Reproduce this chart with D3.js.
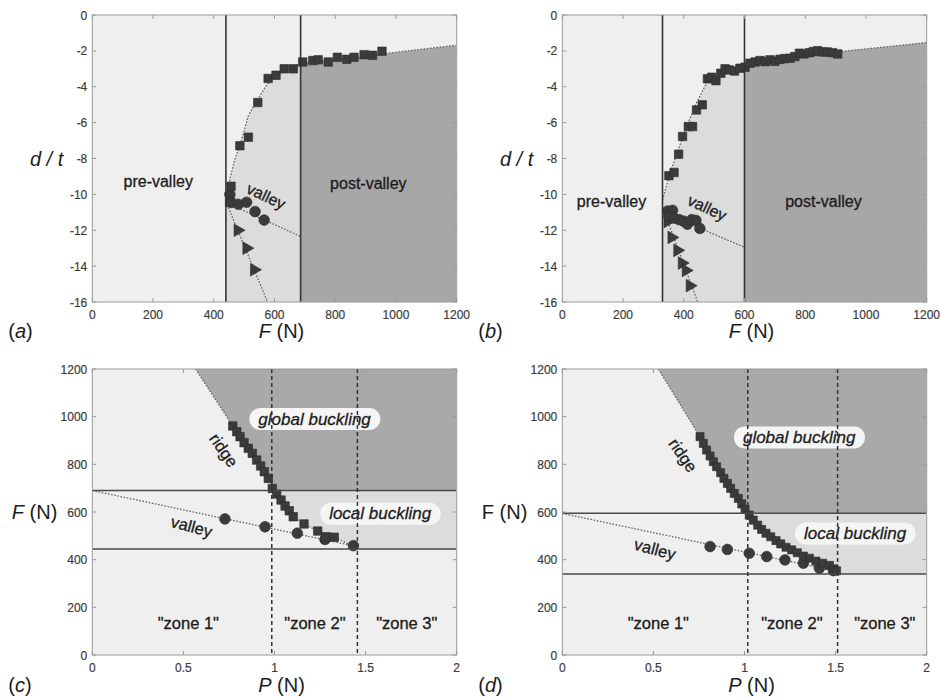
<!DOCTYPE html>
<html>
<head>
<meta charset="utf-8">
<script src="https://cdn.jsdelivr.net/npm/d3@7"></script>
<style>
  body { margin: 0; background: #fff; }
  text { font-family: "Liberation Sans", Arial, sans-serif; }
</style>
</head>
<body>
<svg id="fig" width="941" height="699"></svg>
<script>
// ---- data ----
// (a) d/t vs F
const squaresA = [[457,-9.55],[452,-10.45],[486,-7.29],[514,-6.81],[545,-4.88],[579,-3.54],[605,-3.36],[632,-3.0],[662,-3.0],
  [693,-2.62],[726,-2.54],[744,-2.5],[777,-2.62],[807,-2.36],[838,-2.47],[862,-2.36],[895,-2.21],[923,-2.25],[954,-2.02]];
const circlesA = [[453,-10.0],[458,-10.45],[481,-10.55],[508,-10.44],[536,-10.96],[566,-11.43]];
const trianglesA = [[479,-12.0],[508,-13.0],[533,-14.2]];
const fitSquaresA = [[440,-10.5],[455,-9.0],[470,-8.0],[486,-7.3],[514,-5.6],[541,-4.8],[574,-3.9],[610,-3.3],[686,-2.7],[1200,-1.68]];
const fitCirclesA = [[440,-10.45],[686,-12.35]];
const fitTrianglesA = [[440,-10.4],[577,-16]];
const boundsA = [440, 686];

// (b) d/t vs F
const squaresB = [[351,-8.96],[368,-8.78],[383,-7.76],[396,-6.77],[415,-6.22],[429,-6.22],[442,-5.29],[461,-5.01],[478,-3.56],
  [492,-3.47],[506,-3.66],[522,-3.25],[536,-3.0],[550,-3.06],[567,-3.12],[585,-2.97],[602,-2.91],[618,-2.69],[635,-2.62],
  [651,-2.54],[668,-2.6],[684,-2.5],[700,-2.58],[717,-2.47],[733,-2.43],[750,-2.41],[766,-2.32],[781,-2.13],[796,-2.17],
  [814,-2.1],[827,-2.04],[841,-1.99],[858,-2.06],[873,-2.06],[890,-2.1],[907,-2.17]];
const circlesB = [[347,-10.93],[363,-10.89],[351,-11.23],[368,-11.32],[385,-11.41],[399,-11.49],[412,-11.66],[426,-11.41],[440,-11.45],[453,-11.9]];
const trianglesB = [[347,-11.51],[360,-12.4],[379,-13.12],[394,-13.83],[407,-14.24],[420,-15.09]];
const fitSquaresB = [[330,-10.3],[355,-8.8],[382,-7.5],[410,-6.2],[442,-4.9],[478,-3.7],[520,-3.3],[600,-2.92],[700,-2.55],[800,-2.2],[915,-2.04],[1200,-1.54]];
const fitCirclesB = [[330,-11.0],[600,-12.95]];
const fitTrianglesB = [[330,-10.7],[446,-16]];
const boundsB = [330, 600];

// (c) F vs P
const ridgeC = [[0.771,961],[0.793,937],[0.811,916],[0.833,891],[0.856,867],[0.878,846],[0.902,818],[0.924,793],[0.944,769],
  [0.966,741],[0.988,699],[1.012,675],[1.036,650],[1.058,625],[1.081,605],[1.103,580],[1.162,550],[1.237,520],[1.283,496],[1.328,494]];
const valleyC = [[0.728,571],[0.948,538],[1.125,511],[1.277,485],[1.433,459]];
const fitRidgeC = [[0.567,1200],[0.771,961],[0.878,846],[0.966,741],[1.036,650],[1.103,580],[1.162,550],[1.237,520],[1.33,494],[1.46,445]];
const fitValleyC = [[0,690],[1.45,455]];
const levelsC = [445, 690];
const zonesC = [0.985, 1.455];

// (d) F vs P
const ridgeD = [[0.756,916],[0.774,888],[0.792,860],[0.811,835],[0.829,811],[0.847,790],[0.869,765],[0.887,741],[0.906,720],
  [0.924,699],[0.944,678],[0.966,657],[0.985,634],[1.003,611],[1.026,587],[1.048,566],[1.072,545],[1.094,527],[1.118,511],
  [1.144,496],[1.173,480],[1.199,466],[1.228,452],[1.259,441],[1.29,429],[1.323,415],[1.356,406],[1.392,394],[1.429,385],
  [1.466,376],[1.49,362],[1.505,353]];
const valleyD = [[0.811,455],[0.906,443],[1.026,427],[1.122,413],[1.222,399],[1.323,385],[1.411,364],[1.488,354]];
const fitRidgeD = [[0.527,1200],[0.756,916],[0.847,790],[0.944,678],[1.026,587],[1.118,511],[1.199,466],[1.29,429],[1.392,394],[1.466,376],[1.505,340]];
const fitValleyD = [[0,594],[1.5,352]];
const levelsD = [340, 595];
const zonesD = [1.018, 1.511];

const ticksF = [0, 200, 400, 600, 800, 1000, 1200];
const ticksDT = [0, -2, -4, -6, -8, -10, -12, -14, -16];
const ticksP = [0, 0.5, 1, 1.5, 2];

// ---- drawing ----
const svg = d3.select('#fig');
const defs = svg.append('defs');
const markColor = '#3b3b3b';
const ink = '#1c1c1c';
let clipId = 0;

function clipRect(x0, y0, x1, y1) {
  const id = 'clip' + (clipId++);
  defs.append('clipPath').attr('id', id).append('rect')
    .attr('x', Math.min(x0, x1)).attr('y', Math.min(y0, y1))
    .attr('width', Math.abs(x1 - x0)).attr('height', Math.abs(y1 - y0));
  return 'url(#' + id + ')';
}

function frame(g, box, x, y, xt, yt, fmtX) {
  const tl = 4;
  g.append('rect').attr('x', box.x0).attr('y', box.y0)
    .attr('width', box.x1 - box.x0).attr('height', box.y1 - box.y0)
    .attr('fill', 'none').attr('stroke', '#9a9a9a').attr('stroke-width', 1);
  xt.forEach(function (t) {
    const px = x(t);
    g.append('line').attr('x1', px).attr('x2', px).attr('y1', box.y1).attr('y2', box.y1 - tl).attr('stroke', '#9a9a9a');
    g.append('line').attr('x1', px).attr('x2', px).attr('y1', box.y0).attr('y2', box.y0 + tl).attr('stroke', '#9a9a9a');
    g.append('text').attr('x', px).attr('y', box.y1 + 17).attr('text-anchor', 'middle')
      .attr('font-size', 12).attr('fill', '#3c3c3c').attr('stroke', '#3c3c3c').attr('stroke-width', 0.2)
      .text(fmtX ? fmtX(t) : t);
  });
  yt.forEach(function (t) {
    const py = y(t);
    g.append('line').attr('x1', box.x0).attr('x2', box.x0 + tl).attr('y1', py).attr('y2', py).attr('stroke', '#9a9a9a');
    g.append('line').attr('x1', box.x1).attr('x2', box.x1 - tl).attr('y1', py).attr('y2', py).attr('stroke', '#9a9a9a');
    g.append('text').attr('x', box.x0 - 5).attr('y', py + 4.5).attr('text-anchor', 'end')
      .attr('font-size', 12).attr('fill', '#3c3c3c').attr('stroke', '#3c3c3c').attr('stroke-width', 0.2).text(t);
  });
}

function dotted(g, pts, x, y) {
  const line = d3.line().x(d => x(d[0])).y(d => y(d[1]));
  g.append('path').attr('d', line(pts)).attr('fill', 'none')
    .attr('stroke', '#666').attr('stroke-width', 1.3).attr('stroke-dasharray', '1.6,1.6');
}

function markers(g, pts, type, size, rot, x, y) {
  const sym = d3.symbol().type(type).size(size);
  g.selectAll(null).data(pts).enter().append('path')
    .attr('d', sym)
    .attr('transform', d => 'translate(' + x(d[0]) + ',' + y(d[1]) + ') rotate(' + rot + ')')
    .attr('fill', markColor).attr('stroke', '#2e2e2e').attr('stroke-width', 0.6);
}

function label(g, txt, px, py, size, rot, italic) {
  g.append('text').attr('x', px).attr('y', py).attr('text-anchor', 'middle')
    .attr('dominant-baseline', 'central')
    .attr('transform', rot ? 'rotate(' + rot + ',' + px + ',' + py + ')' : null)
    .attr('font-size', size).attr('font-style', italic ? 'italic' : null)
    .attr('fill', ink).attr('stroke', ink).attr('stroke-width', 0.3).text(txt);
}

function boxLabel(g, txt, px, py) {
  const gg = g.append('g');
  const r = gg.append('rect');
  const t = gg.append('text').attr('x', px).attr('y', py).attr('text-anchor', 'middle')
    .attr('dominant-baseline', 'central').attr('font-size', 17).attr('font-style', 'italic')
    .attr('fill', ink).attr('stroke', ink).attr('stroke-width', 0.3).text(txt);
  const b = t.node().getBBox();
  r.attr('x', b.x - 9).attr('y', py - 11).attr('width', b.width + 18).attr('height', 22)
    .attr('rx', 11).attr('fill', '#f5f5f5');
}

function drawDT(cfg) {
  const box = cfg.box;
  const g = svg.append('g');
  const x = d3.scaleLinear().domain([0, 1200]).range([box.x0, box.x1]);
  const y = d3.scaleLinear().domain([-16, 0]).range([box.y1, box.y0]);

  g.append('rect').attr('x', box.x0).attr('y', box.y0).attr('width', box.x1 - box.x0)
    .attr('height', box.y1 - box.y0).attr('fill', '#efefef');

  const poly = cfg.fitSq.concat([[1200, -16], [cfg.bounds[0], -16]]);
  const area = d3.line().x(d => x(d[0])).y(d => y(d[1]));
  g.append('path').attr('d', area(poly) + 'Z').attr('fill', '#dcdcdc')
    .attr('clip-path', clipRect(x(cfg.bounds[0]), box.y0, x(cfg.bounds[1]), box.y1));
  g.append('path').attr('d', area(poly) + 'Z').attr('fill', '#a7a7a7')
    .attr('clip-path', clipRect(x(cfg.bounds[1]), box.y0, box.x1, box.y1));

  const inner = g.append('g').attr('clip-path', clipRect(box.x0, box.y0, box.x1, box.y1));
  dotted(inner, cfg.fitSq, x, y);
  dotted(inner, cfg.fitCirc, x, y);
  dotted(inner, cfg.fitTri, x, y);

  cfg.bounds.forEach(function (b) {
    g.append('line').attr('x1', x(b)).attr('x2', x(b)).attr('y1', box.y0).attr('y2', box.y1)
      .attr('stroke', '#333').attr('stroke-width', 1.6);
  });

  markers(inner, cfg.tri, d3.symbolTriangle, 70, 90, x, y);
  markers(inner, cfg.circ, d3.symbolCircle, 90, 0, x, y);
  markers(inner, cfg.sq, d3.symbolSquare, 72, 0, x, y);

  cfg.labels.forEach(l => label(g, l[0], x(l[1]), y(l[2]), 16, l[3], false));

  frame(g, box, x, y, ticksF, ticksDT);

  g.append('text').attr('x', box.x0 - 29).attr('y', y(-8) + 7).attr('text-anchor', 'end')
    .attr('font-size', 20).attr('font-style', 'italic').attr('fill', ink).text('d / t');
  const xl = g.append('text').attr('x', (box.x0 + box.x1) / 2 + 7).attr('y', box.y1 + 36)
    .attr('text-anchor', 'middle').attr('font-size', 20).attr('fill', ink);
  xl.append('tspan').attr('font-style', 'italic').text('F');
  xl.append('tspan').text(' (N)');
  const pl = g.append('text').attr('x', box.x0 - 84).attr('y', box.y1 + 36)
    .attr('font-size', 20).attr('fill', ink);
  pl.append('tspan').text('(');
  pl.append('tspan').attr('font-style', 'italic').text(cfg.tag);
  pl.append('tspan').text(')');
}

function drawFP(cfg) {
  const box = cfg.box;
  const g = svg.append('g');
  const x = d3.scaleLinear().domain([0, 2]).range([box.x0, box.x1]);
  const y = d3.scaleLinear().domain([0, 1200]).range([box.y1, box.y0]);

  g.append('rect').attr('x', box.x0).attr('y', box.y0).attr('width', box.x1 - box.x0)
    .attr('height', box.y1 - box.y0).attr('fill', '#efefef');

  const last = cfg.fitRidge[cfg.fitRidge.length - 1];
  const poly = cfg.fitRidge.concat([[2, last[1]], [2, 1200]]);
  const area = d3.line().x(d => x(d[0])).y(d => y(d[1]));
  g.append('path').attr('d', area(poly) + 'Z').attr('fill', '#a9a9a9')
    .attr('clip-path', clipRect(box.x0, y(cfg.levels[1]), box.x1, box.y0));
  g.append('path').attr('d', area(poly) + 'Z').attr('fill', '#dcdcdc')
    .attr('clip-path', clipRect(box.x0, y(cfg.levels[0]), box.x1, y(cfg.levels[1])));

  const inner = g.append('g').attr('clip-path', clipRect(box.x0, box.y0, box.x1, box.y1));
  dotted(inner, cfg.fitRidge, x, y);
  dotted(inner, cfg.fitValley, x, y);

  cfg.levels.forEach(function (v) {
    g.append('line').attr('x1', box.x0).attr('x2', box.x1).attr('y1', y(v)).attr('y2', y(v))
      .attr('stroke', '#4a4a4a').attr('stroke-width', 1.6);
  });

  boxLabel(g, 'global buckling', x(cfg.globalAt[0]), y(cfg.globalAt[1]));
  boxLabel(g, 'local buckling', x(cfg.localAt[0]), y(cfg.localAt[1]));

  cfg.zones.forEach(function (z) {
    g.append('line').attr('x1', x(z)).attr('x2', x(z)).attr('y1', box.y0).attr('y2', box.y1)
      .attr('stroke', '#333').attr('stroke-width', 1.5).attr('stroke-dasharray', '4,3');
  });

  markers(inner, cfg.valley, d3.symbolCircle, 90, 0, x, y);
  markers(inner, cfg.ridge, d3.symbolSquare, cfg.sqSize, 0, x, y);

  cfg.labels.forEach(l => label(g, l[0], x(l[1]), y(l[2]), 16.5, l[3], false));

  frame(g, box, x, y, ticksP, ticksF, d => d === 0.5 || d === 1.5 ? d : d3.format('d')(d));

  const yl = g.append('text').attr('x', box.x0 - 35).attr('y', y(600) + 7).attr('text-anchor', 'end')
    .attr('font-size', 20).attr('fill', ink);
  yl.append('tspan').attr('font-style', cfg.italicF ? 'italic' : null).text('F');
  yl.append('tspan').text(' (N)');
  const xl = g.append('text').attr('x', (box.x0 + box.x1) / 2 + 7).attr('y', box.y1 + 37)
    .attr('text-anchor', 'middle').attr('font-size', 20).attr('fill', ink);
  xl.append('tspan').attr('font-style', 'italic').text('P');
  xl.append('tspan').text(' (N)');
  const pl = g.append('text').attr('x', box.x0 - 84).attr('y', box.y1 + 37)
    .attr('font-size', 20).attr('fill', ink);
  pl.append('tspan').text('(');
  pl.append('tspan').attr('font-style', 'italic').text(cfg.tag);
  pl.append('tspan').text(')');
}

drawDT({
  box: {x0: 92.3, x1: 456.7, y0: 15, y1: 302}, tag: 'a',
  sq: squaresA, circ: circlesA, tri: trianglesA,
  fitSq: fitSquaresA, fitCirc: fitCirclesA, fitTri: fitTrianglesA, bounds: boundsA,
  labels: [['pre-valley', 217, -9.3, 0], ['valley', 572, -10.1, 25], ['post-valley', 909, -9.4, 0]]
});
drawDT({
  box: {x0: 562.3, x1: 926.7, y0: 15, y1: 302}, tag: 'b',
  sq: squaresB, circ: circlesB, tri: trianglesB,
  fitSq: fitSquaresB, fitCirc: fitCirclesB, fitTri: fitTrianglesB, bounds: boundsB,
  labels: [['pre-valley', 162, -10.4, 0], ['valley', 477, -10.75, 25], ['post-valley', 860, -10.4, 0]]
});
drawFP({
  box: {x0: 92.3, x1: 456.7, y0: 369, y1: 655}, tag: 'c', italicF: true, sqSize: 72,
  ridge: ridgeC, valley: valleyC, fitRidge: fitRidgeC, fitValley: fitValleyC,
  levels: levelsC, zones: zonesC, globalAt: [1.22, 990], localAt: [1.58, 593],
  labels: [['ridge', 0.723, 860, 55], ['valley', 0.545, 540, 15],
    ['"zone 1"', 0.527, 133, 0], ['"zone 2"', 1.222, 136, 0], ['"zone 3"', 1.726, 136, 0]]
});
drawFP({
  box: {x0: 562.3, x1: 926.7, y0: 369, y1: 655}, tag: 'd', italicF: false, sqSize: 66,
  ridge: ridgeD, valley: valleyD, fitRidge: fitRidgeD, fitValley: fitValleyD,
  levels: levelsD, zones: zonesD, globalAt: [1.3, 913], localAt: [1.607, 510],
  labels: [['ridge', 0.664, 839, 55], ['valley', 0.509, 445, 15],
    ['"zone 1"', 0.527, 133, 0], ['"zone 2"', 1.26, 136, 0], ['"zone 3"', 1.77, 136, 0]]
});
</script>
</body>
</html>
